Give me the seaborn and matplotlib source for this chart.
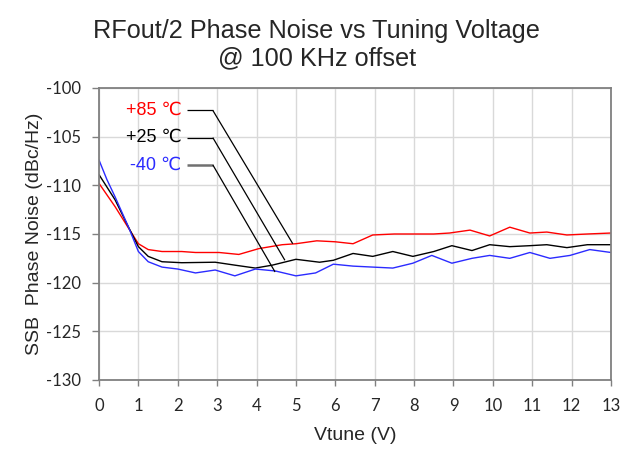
import matplotlib
matplotlib.use("Agg")
import matplotlib.pyplot as plt
import seaborn as sns
import pandas as pd

sns.set_theme(style="white")
plt.rcParams['font.family'] = ['Liberation Sans', 'Noto Sans CJK SC', 'DejaVu Sans']

# Data
vt_85 = [0, 0.41, 0.75, 1.0, 1.25, 1.6, 2.1, 2.45, 3.05, 3.55, 4.06, 4.65, 5.0, 5.53, 6.0, 6.45,
         6.95, 7.5, 7.97, 8.5, 8.9, 9.42, 9.92, 10.43, 10.94, 11.37, 11.88, 12.4, 13.0]
pn_85 = [-109.8, -112.2, -114.4, -116.0, -116.6, -116.8, -116.8, -116.9, -116.9, -117.1, -116.5,
         -116.1, -116.0, -115.7, -115.8, -116.0, -115.1, -115.0, -115.0, -115.0, -114.9, -114.6,
         -115.2, -114.3, -114.9, -114.8, -115.1, -115.0, -114.9]

vt_25 = [0, 0.41, 0.75, 1.0, 1.25, 1.6, 2.1, 2.95, 3.45, 3.97, 4.4, 5.0, 5.6, 5.95, 6.45,
         6.95, 7.46, 7.97, 8.5, 8.96, 9.47, 9.92, 10.43, 10.94, 11.37, 11.88, 12.4, 13.0]
pn_25 = [-108.9, -111.5, -114.3, -116.3, -117.3, -117.85, -117.95, -117.9, -118.2, -118.5, -118.2,
         -117.6, -117.9, -117.7, -117.0, -117.3, -116.8, -117.3, -116.8, -116.2, -116.7,
         -116.1, -116.3, -116.2, -116.1, -116.4, -116.1, -116.1]

vt_m40 = [0, 0.2, 0.41, 0.75, 1.0, 1.25, 1.6, 2.0, 2.45, 2.95, 3.45, 3.97, 4.48, 5.0, 5.5, 5.95, 6.45,
          6.95, 7.46, 7.97, 8.45, 8.96, 9.47, 9.92, 10.43, 10.94, 11.45, 11.96, 12.46, 13.0]
pn_m40 = [-107.4, -109.4, -111.2, -114.3, -116.8, -117.85, -118.4, -118.6, -119.0, -118.7, -119.3, -118.6,
          -118.8, -119.3, -119.0, -118.1, -118.3, -118.4, -118.5, -118.0, -117.2, -118.0, -117.5,
          -117.2, -117.5, -116.9, -117.5, -117.2, -116.6, -116.9]

labels = ["+85 \u2103", "+25 \u2103", "-40 \u2103"]
colors = ["#ff0000", "#000000", "#2b2bff"]
# callout anchors (label y, line end x, line end y)
callout_y = [-102.3, -105.1, -107.9]
callout_end_x = [4.92, 4.72, 4.47]
callout_end_y = [-116.0, -117.7, -118.9]

xticks = list(range(0, 14))
yticks = [-130, -125, -120, -115, -110, -105, -100]

df = pd.concat([
    pd.DataFrame({"Vtune": vt_85, "PN": pn_85, "T": labels[0]}),
    pd.DataFrame({"Vtune": vt_25, "PN": pn_25, "T": labels[1]}),
    pd.DataFrame({"Vtune": vt_m40, "PN": pn_m40, "T": labels[2]}),
])

fig = plt.figure(figsize=(6.21, 4.55), dpi=100)
ax = fig.add_axes([99/621, 1-380/455, 512/621, 292/455])

sns.lineplot(data=df, x="Vtune", y="PN", hue="T", palette=dict(zip(labels, colors)),
             linewidth=1.0, legend=False, ax=ax, sort=False, estimator=None)

ax.set_xlim(0, 13)
ax.set_ylim(-130, -100)
ax.set_xticks(xticks)
ax.set_yticks(yticks)
ax.set_xticklabels([str(v) for v in xticks], fontsize=12, family="Lato")
ax.set_yticklabels([str(v) for v in yticks], fontsize=12, family="Lato")
ax.grid(True, color="#d9d9d9", linewidth=1.0)
ax.set_axisbelow(True)
for s in ax.spines.values():
    s.set_color("#808080")
    s.set_linewidth(1.3)
ax.tick_params(axis="x", which="major", length=4, width=1, color="#808080",
               direction="out", pad=9, bottom=True)
ax.tick_params(axis="y", which="major", length=5, width=1, color="#808080",
               direction="out", pad=8, left=True)

ax.set_xlabel("Vtune (V)", fontsize=14, labelpad=9)
ax.set_ylabel("SSB  Phase Noise (dBc/Hz)", fontsize=14, labelpad=2)

fig.suptitle("RFout/2 Phase Noise vs Tuning Voltage\n@ 100 KHz offset", fontsize=18.2,
             x=0.51, y=0.958, linespacing=1.15)

for i, (lab, col, ly, ex, ey) in enumerate(zip(labels, colors, callout_y, callout_end_x, callout_end_y)):
    ax.text(2.1, ly, lab, color=col, fontsize=13, ha="right", va="center",
            family=["Liberation Sans", "DejaVu Sans"])
    hc = "#707070" if i == 2 else "black"
    hw = 1.8 if i == 2 else 0.9
    ax.plot([2.23, 2.89], [ly, ly], color=hc, linewidth=hw, solid_capstyle="butt")
    ax.plot([2.89, ex], [ly, ey], color="black", linewidth=0.9, solid_capstyle="butt")

fig.savefig("out.png", dpi=100)
